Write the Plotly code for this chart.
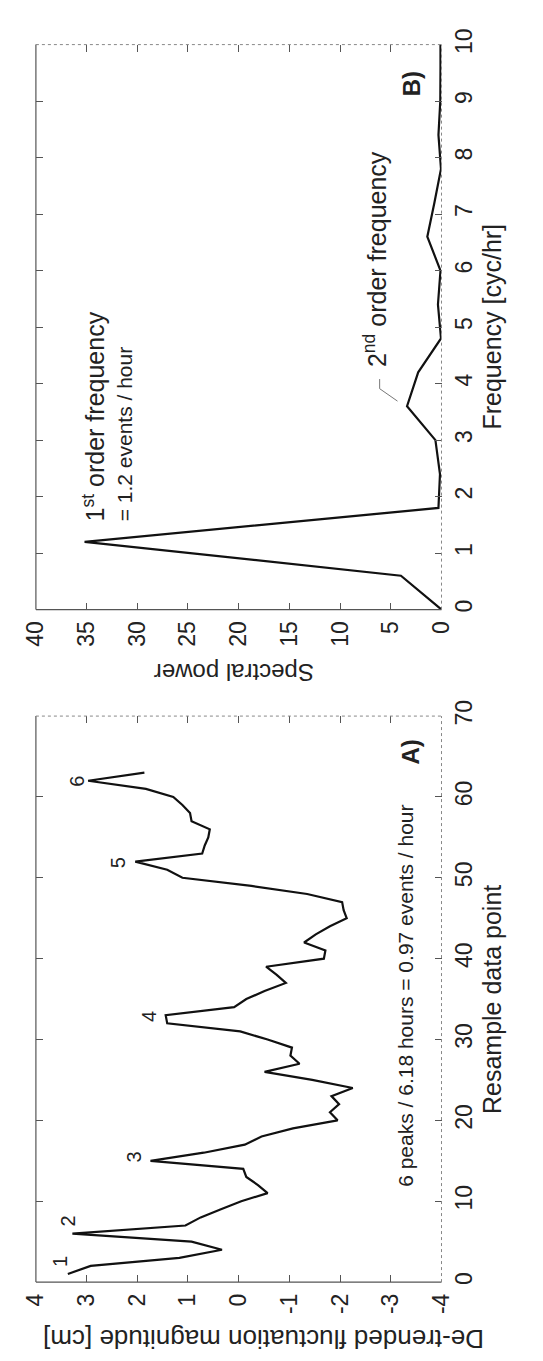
import plotly.graph_objects as go

# ---------------- data ----------------
resample_idx = list(range(1, 64))
magnitude = [3.37, 2.92, 1.17, 0.33, 0.93, 3.28, 1.05, 0.75, 0.35, -0.05,
             -0.57, -0.38, -0.15, -0.09, 1.74, 0.69, -0.12, -0.45, -1.07, -1.95,
             -1.80, -1.98, -1.83, -2.25, -1.45, -0.51, -1.20, -1.02, -1.05, -0.57,
             -0.03, 1.41, 1.44, 0.09, -0.15, -0.51, -0.93, -0.75, -0.54, -1.68,
             -1.71, -1.29, -1.52, -1.80, -2.13, -2.07, -2.04, -1.35, -0.25, 1.11,
             1.41, 2.04, 0.72, 0.67, 0.60, 0.57, 0.93, 0.96, 1.11, 1.29,
             1.83, 2.97, 1.86]

frequency = [0.0, 0.6, 1.2, 1.8, 2.4, 3.0, 3.6, 4.2, 4.8, 5.4, 6.0, 6.6,
             7.2, 7.8, 8.4, 9.0, 9.6, 10.2]
spectral_power = [0.0, 4.0, 35.2, 0.3, 0.15, 0.6, 3.4, 2.3, 0.05, 0.35, 0.1, 1.4,
                  0.7, 0.05, 0.3, 0.12, 0.1, 0.1]

mag_ticks = [-4, -3, -2, -1, 0, 1, 2, 3, 4]
mag_ticktext = ["-4", "-3", "-2", "-1", "0", "1", "2", "3", "4"]
resample_ticks = [0, 10, 20, 30, 40, 50, 60, 70]
power_ticks = [0, 5, 10, 15, 20, 25, 30, 35, 40]
freq_ticks = list(range(0, 11))

peak_labels = ["1", "2", "3", "4", "5", "6"]
peak_label_mag = [3.52, 3.37, 2.07, 1.77, 2.38, 3.19]
peak_label_idx = [2.5, 7.6, 15.5, 32.9, 51.8, 62.0]

leader_power = [4.34, 6.1, 6.1]
leader_freq = [3.69, 3.91, 4.08]

# ---------------- layout geometry ----------------
W, H = 543, 1361
FONT = "Liberation Sans, Arial, sans-serif"
AX = "#555555"


def xp(px):
    return px / W


def yp(py):
    return 1 - py / H


A_left, A_right, A_top, A_bot = 23, 449, 710, 1284
B_left, B_right, B_top, B_bot = 23, 449, 29, 602

fig = go.Figure()

fig.add_trace(go.Scatter(x=magnitude, y=resample_idx, mode="lines",
                         line=dict(color="#111111", width=2.2),
                         xaxis="x", yaxis="y", showlegend=False, hoverinfo="skip"))
fig.add_trace(go.Scatter(x=spectral_power, y=frequency, mode="lines",
                         line=dict(color="#111111", width=2.2),
                         xaxis="x2", yaxis="y2", showlegend=False, hoverinfo="skip"))
fig.add_trace(go.Scatter(x=leader_power, y=leader_freq, mode="lines",
                         line=dict(color="#777777", width=1),
                         xaxis="x2", yaxis="y2", showlegend=False, hoverinfo="skip"))

common = dict(showgrid=False, zeroline=False, ticks="inside", ticklen=7,
              tickwidth=1, tickcolor=AX, showline=False, mirror="ticks",
              tickangle=-90, ticklabelstandoff=6,
              tickfont=dict(family=FONT, size=23, color="#222222"))

fig.update_layout(
    width=W, height=H, margin=dict(l=0, r=0, t=0, b=0),
    paper_bgcolor="white", plot_bgcolor="white", showlegend=False,
    xaxis=dict(domain=[xp(A_left), xp(A_right)], range=[4, -4],
               tickvals=mag_ticks, ticktext=mag_ticktext, anchor="y", side="bottom", **common),
    yaxis=dict(domain=[yp(A_bot), yp(A_top)], range=[0, 70],
               tickvals=resample_ticks, ticktext=[str(v) for v in resample_ticks],
               anchor="x", side="right", **common),
    xaxis2=dict(domain=[xp(B_left), xp(B_right)], range=[40, 0],
                tickvals=power_ticks, ticktext=[str(v) for v in power_ticks],
                anchor="y2", side="bottom", **common),
    yaxis2=dict(domain=[yp(B_bot), yp(B_top)], range=[0, 10],
                tickvals=freq_ticks, ticktext=[str(v) for v in freq_ticks],
                anchor="x2", side="right", **common),
)

# box edges: left/bottom solid, top/right dotted
shapes = []
for (l, r, t, b) in [(A_left, A_right, A_top, A_bot), (B_left, B_right, B_top, B_bot)]:
    shapes.append(dict(type="line", xref="paper", yref="paper", x0=xp(l), x1=xp(l),
                       y0=yp(b), y1=yp(t), line=dict(color=AX, width=1.2)))
    shapes.append(dict(type="line", xref="paper", yref="paper", x0=xp(l), x1=xp(r),
                       y0=yp(b), y1=yp(b), line=dict(color=AX, width=1.2)))
    shapes.append(dict(type="line", xref="paper", yref="paper", x0=xp(l), x1=xp(r),
                       y0=yp(t), y1=yp(t), line=dict(color="#888888", width=1, dash="dot")))
    shapes.append(dict(type="line", xref="paper", yref="paper", x0=xp(r), x1=xp(r),
                       y0=yp(b), y1=yp(t), line=dict(color="#888888", width=1, dash="dot")))
fig.update_layout(shapes=shapes)

ann = []


def add(text, x, y, ref, angle, size, xa="center", ya="middle"):
    xr, yr = ref
    ann.append(dict(text=text, x=x, y=y, xref=xr, yref=yr, textangle=angle,
                    xanchor=xa, yanchor=ya, showarrow=False,
                    font=dict(family=FONT, size=size, color="#222222")))


P = ("paper", "paper")
# axis titles
add("De-trended fluctuation magnitude [cm]", xp(262), yp(1341), P, 180, 26)
add("Spectral power", xp(231), yp(666), P, 180, 24)
add("Resample data point", xp(502), yp(997), P, -90, 25)
add("Frequency [cyc/hr]", xp(502), yp(315), P, -90, 25)

# panel A texts
for lab, m, i in zip(peak_labels, peak_label_mag, peak_label_idx):
    add(lab, m, i, ("x", "y"), -90, 20)
add("6 peaks / 6.18 hours = 0.97 events / hour", -3.30, 35.4, ("x", "y"), -90, 21)
add("<b>A)</b>", -3.38, 65.5, ("x", "y"), -90, 24)

# panel B texts
add("1<sup>st</sup> order frequency", 34.3, 1.52, ("x2", "y2"), -90, 25, "center", "bottom")
add("= 1.2 events / hour", 31.3, 1.52, ("x2", "y2"), -90, 21, "center", "bottom")
add("2<sup>nd</sup> order frequency", 6.5, 4.25, ("x2", "y2"), -90, 25, "center", "bottom")
add("<b>B)</b>", 3.0, 9.3, ("x2", "y2"), -90, 24)

fig.update_layout(annotations=ann)

fig.write_html("out.html")
